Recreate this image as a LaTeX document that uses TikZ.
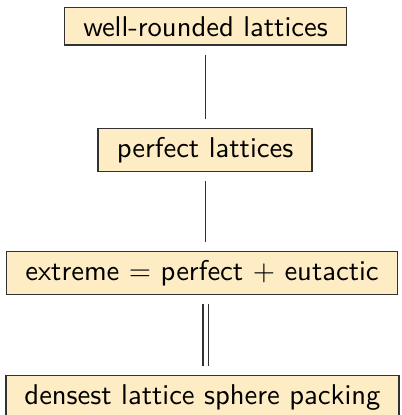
\documentclass[tikz,border=0pt]{standalone}
\definecolor{boxfill}{RGB}{254,236,196}
\definecolor{boxline}{RGB}{50,50,50}
\begin{document}
\begin{tikzpicture}[x=0.3497pt, y=-0.3497pt,
  box/.style={draw=boxline, line width=0.5pt, fill=boxfill,
    inner xsep=6.5pt, inner ysep=3pt, font=\sffamily, anchor=north},
  link/.style={draw=boxline, line width=0.4pt, shorten <=3.2pt, shorten >=3.2pt}]
  \useasboundingbox (0,0) rectangle (401,415);
  % the four classes of lattices, top to bottom
  \node[box] (wr) at (205.5,7)   {well-rounded lattices};
  \node[box] (pf) at (205,128)   {perfect lattices};
  \node[box] (ex) at (202,251)   {extreme $=$ perfect $+$ eutactic};
  \node[box] (dl) at (202.5,375) {densest lattice sphere packing};
  % common vertical axis of the connectors
  \coordinate (axis) at (205.5,0);
  \draw[link] (wr.south -| axis) -- (pf.north -| axis);
  \draw[link] (pf.south -| axis) -- (ex.north -| axis);
  \draw[link, double, double distance=1.4pt] (ex.south -| axis) -- (dl.north -| axis);
\end{tikzpicture}
\end{document}
